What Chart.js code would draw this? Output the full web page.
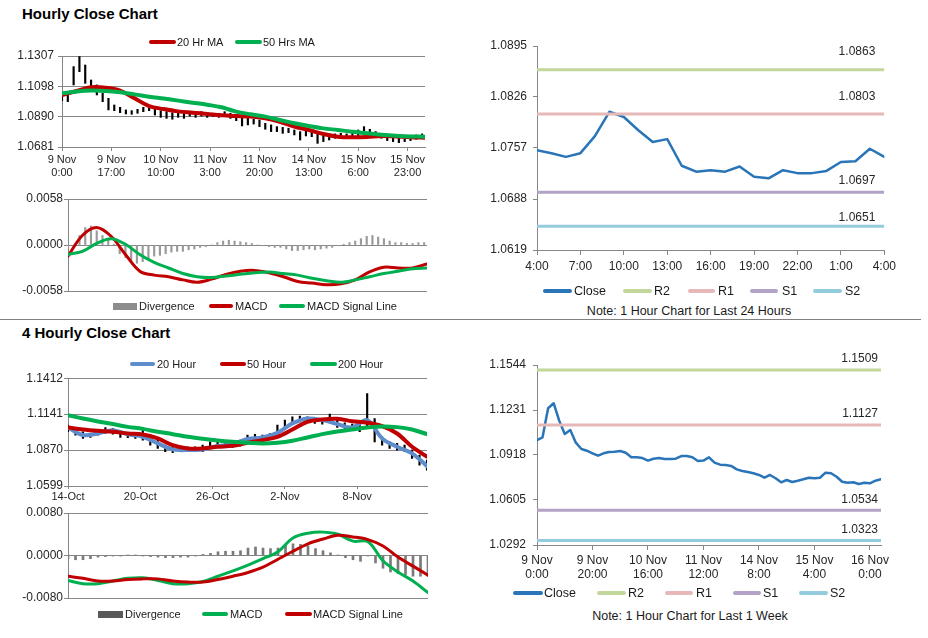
<!DOCTYPE html>
<html>
<head>
<meta charset="utf-8">
<title>Hourly Close Chart</title>
<script src="https://cdn.jsdelivr.net/npm/chart.js@4.4.1/dist/chart.umd.min.js"></script>
<style>
  body { margin: 0; background: #fff; }
  #page { position: relative; width: 928px; height: 638px; overflow: hidden; font-family: "Liberation Sans", Arial, sans-serif; color: #1a1a1a; }
  #page canvas { position: absolute; }
  .title { position: absolute; left: 22px; font-weight: bold; font-size: 15px; line-height: 18px; color: #000; }
  .lg { position: absolute; white-space: nowrap; line-height: 14px; }
  .note { position: absolute; white-space: nowrap; font-size: 12.5px; line-height: 14px; transform: translateX(-50%); }
  .rule { position: absolute; left: 0; top: 319px; width: 921px; height: 1px; background: #808080; }
</style>
</head>
<body>
<div id="page">
  <div class="title" style="top:5px">Hourly Close Chart</div>
  <div class="rule"></div>
  <div class="title" style="top:324px">4 Hourly Close Chart</div>
  <div class="note" style="left:689px;top:304px">Note: 1 Hour Chart for Last 24 Hours</div>
  <div class="note" style="left:690px;top:609px">Note: 1 Hour Chart for Last 1 Week</div>
</div>
<script>
// ---------- hourly chart, 9 Nov 0:00 onwards (x = hours)
const hourTickPos = [0, 17, 34, 51, 68, 85, 102, 119];
const hourTickLabels = [["9 Nov", "0:00"], ["9 Nov", "17:00"], ["10 Nov", "10:00"], ["11 Nov", "3:00"],
  ["11 Nov", "20:00"], ["14 Nov", "13:00"], ["15 Nov", "6:00"], ["15 Nov", "23:00"]];
const hourYTicks = [1.0681, 1.0890, 1.1098, 1.1307];
// high / low every 2 hours
const hourHigh = [1.1055, 1.1050, 1.1234, 1.1303, 1.1245, 1.1142, 1.1108, 1.1050, 1.1016, 1.0970,
  1.0954, 1.0936, 1.0931, 1.0940, 1.0954, 1.0963, 1.0945, 1.0931, 1.0924, 1.0917,
  1.0924, 1.0917, 1.0927, 1.0917, 1.0924, 1.0917, 1.0913, 1.0913, 1.0924, 1.0913,
  1.0901, 1.0885, 1.0878, 1.0872, 1.0867, 1.0844, 1.0833, 1.0821, 1.0816, 1.0810,
  1.0798, 1.0787, 1.0798, 1.0787, 1.0775, 1.0764, 1.0757, 1.0771, 1.0775, 1.0771,
  1.0780, 1.0798, 1.0821, 1.0803, 1.0787, 1.0771, 1.0757, 1.0748, 1.0748, 1.0752,
  1.0757, 1.0764, 1.0771];
const hourLow = [1.1000, 1.0993, 1.1108, 1.1199, 1.1119, 1.1078, 1.1039, 1.0993, 1.0936, 1.0931,
  1.0917, 1.0908, 1.0906, 1.0913, 1.0924, 1.0931, 1.0901, 1.0885, 1.0878, 1.0872,
  1.0885, 1.0878, 1.0894, 1.0885, 1.0894, 1.0885, 1.0890, 1.0885, 1.0894, 1.0878,
  1.0862, 1.0826, 1.0833, 1.0839, 1.0821, 1.0803, 1.0787, 1.0787, 1.0775, 1.0780,
  1.0764, 1.0729, 1.0757, 1.0752, 1.0706, 1.0718, 1.0729, 1.0741, 1.0741, 1.0748,
  1.0748, 1.0757, 1.0771, 1.0764, 1.0757, 1.0741, 1.0725, 1.0718, 1.0711, 1.0718,
  1.0725, 1.0734, 1.0741];
// moving averages every 5 hours
const hourMA20 = [1.1039, 1.1066, 1.1092, 1.1089, 1.1069, 1.1016, 1.0963, 1.0942, 1.0926, 1.0917,
  1.0908, 1.0899, 1.0894, 1.0890, 1.0878, 1.0855, 1.0821, 1.0798, 1.0770, 1.0752,
  1.0748, 1.0750, 1.0757, 1.0754, 1.0748, 1.0745];
const hourMA50 = [1.1050, 1.1062, 1.1069, 1.1066, 1.1057, 1.1043, 1.1027, 1.1014, 1.1000, 1.0986,
  1.0972, 1.0954, 1.0924, 1.0906, 1.0890, 1.0867, 1.0844, 1.0825, 1.0809, 1.0798,
  1.0786, 1.0775, 1.0766, 1.0759, 1.0754, 1.0752];
const hourMacdTicks = [-0.0058, 0, 0.0058];
const hourMacd = [-0.0014, 0.0012, 0.0022, 0.0011, -0.0012, -0.0033, -0.0038, -0.0040, -0.0044, -0.0047,
  -0.0043, -0.0037, -0.0033, -0.0032, -0.0035, -0.0040, -0.0046, -0.0048, -0.0050, -0.0049,
  -0.0044, -0.0034, -0.0028, -0.0029, -0.0029, -0.0024];
const hourSignal = [-0.0012, -0.0008, 0.0002, 0.0008, 0.0001, -0.0012, -0.0022, -0.0029, -0.0036, -0.0040,
  -0.0041, -0.0039, -0.0037, -0.0035, -0.0034, -0.0036, -0.0038, -0.0042, -0.0045, -0.0047,
  -0.0044, -0.0040, -0.0036, -0.0033, -0.0030, -0.0029];
const hourDiv = [-0.0003, -0.0002, 0.0012, 0.0022, 0.0024, 0.0018, 0.0012, 0.0008, 0.0001, -0.0011,
  -0.0016, -0.0020, -0.0023, -0.0021, -0.0017, -0.0014, -0.0013, -0.0011, -0.0009, -0.0008,
  -0.0008, -0.0006, -0.0005, -0.0003, -0.0002, 0.0000, 0.0003, 0.0005, 0.0006, 0.0005,
  0.0004, 0.0003, 0.0002, 0.0000, -0.0001, -0.0002, -0.0003, -0.0003, -0.0005, -0.0007,
  -0.0007, -0.0006, -0.0005, -0.0006, -0.0005, -0.0004, -0.0003, -0.0001, 0.0001, 0.0003,
  0.0005, 0.0008, 0.0011, 0.0012, 0.0010, 0.0008, 0.0005, 0.0003, 0.0003, 0.0002,
  0.0002, 0.0003, 0.0003];

// ---------- last 24 hours
const dayTickLabels = ["4:00", "7:00", "10:00", "13:00", "16:00", "19:00", "22:00", "1:00", "4:00"];
const dayYTicks = [1.0619, 1.0688, 1.0757, 1.0826, 1.0895];
const dayClose = [1.0754, 1.0750, 1.0745, 1.0750, 1.0773, 1.0806, 1.0799, 1.0781, 1.0765, 1.0769,
  1.0733, 1.0725, 1.0727, 1.0725, 1.0732, 1.0718, 1.0716, 1.0727, 1.0723, 1.0723,
  1.0726, 1.0738, 1.0739, 1.0756, 1.0745];
const dayLevels = [1.0863, 1.0803, 1.0697, 1.0651]; // R2, R1, S1, S2

// ---------- 4 hourly chart, 14-Oct onwards
const fourTickPos = [0, 29, 58, 87, 116];
const fourTickLabels = ["14-Oct", "20-Oct", "26-Oct", "2-Nov", "8-Nov"];
const fourYTicks = [1.0599, 1.0870, 1.1141, 1.1412];
const fourHigh = [1.1058, 1.1033, 1.1008, 1.0995, 1.1020, 1.1040, 1.1033, 1.1008, 1.1000, 1.0995,
  1.1040, 1.0970, 1.0945, 1.0907, 1.0900, 1.0890, 1.0895, 1.0895, 1.0907, 1.0932,
  1.0932, 1.0932, 1.0925, 1.0945, 1.0983, 1.0988, 1.0983, 1.0995, 1.1058, 1.1096,
  1.1121, 1.1126, 1.1121, 1.1108, 1.1108, 1.1141, 1.1096, 1.1076, 1.1066, 1.1058,
  1.1296, 1.1108, 1.0970, 1.0932, 1.0920, 1.0907, 1.0870, 1.0832, 1.0794];
const fourLow = [1.1008, 1.0983, 1.0958, 1.0965, 1.0983, 1.0995, 1.0990, 1.0965, 1.0963, 1.0958,
  1.0945, 1.0907, 1.0882, 1.0857, 1.0850, 1.0857, 1.0857, 1.0857, 1.0857, 1.0882,
  1.0890, 1.0895, 1.0890, 1.0900, 1.0945, 1.0950, 1.0945, 1.0950, 1.0995, 1.1025,
  1.1066, 1.1083, 1.1076, 1.1071, 1.1066, 1.1083, 1.1040, 1.1033, 1.1020, 1.1008,
  1.1045, 1.0932, 1.0907, 1.0882, 1.0870, 1.0857, 1.0807, 1.0757, 1.0719];
const four20 = [1.1040, 1.0983, 1.0995, 1.1020, 1.0988, 1.0970, 1.0920, 1.0875, 1.0870, 1.0875,
  1.0900, 1.0915, 1.0953, 1.0965, 1.1000, 1.1071, 1.1108, 1.1096, 1.1066, 1.1040,
  1.1096, 1.0958, 1.0895, 1.0845, 1.0749];
const four50 = [1.1040, 1.1025, 1.1015, 1.1008, 1.0995, 1.0988, 1.0958, 1.0907, 1.0882, 1.0882,
  1.0895, 1.0902, 1.0925, 1.0945, 1.0970, 1.1025, 1.1083, 1.1101, 1.1106, 1.1088,
  1.1076, 1.1050, 1.0995, 1.0895, 1.0820];
const four200 = [1.1133, 1.1108, 1.1086, 1.1066, 1.1045, 1.1030, 1.1008, 1.0990, 1.0970, 1.0955,
  1.0942, 1.0932, 1.0925, 1.0920, 1.0925, 1.0940, 1.0965, 1.0990, 1.1010, 1.1025,
  1.1040, 1.1048, 1.1043, 1.1025, 1.0990];
const fourMacdTicks = [-0.0080, 0, 0.0080];
const fourMacd = [-0.0047, -0.0053, -0.0053, -0.0048, -0.0043, -0.0042, -0.0047, -0.0053, -0.0053, -0.0049,
  -0.0039, -0.0029, -0.0018, -0.0006, 0.0007, 0.0033, 0.0042, 0.0044, 0.0040, 0.0027,
  0.0026, -0.0010, -0.0031, -0.0048, -0.0070];
const fourSignal = [-0.0039, -0.0043, -0.0048, -0.0048, -0.0045, -0.0044, -0.0044, -0.0048, -0.0050, -0.0050,
  -0.0045, -0.0039, -0.0032, -0.0022, -0.0007, 0.0008, 0.0022, 0.0031, 0.0038, 0.0035,
  0.0030, 0.0018, -0.0003, -0.0020, -0.0037];
const fourDiv = [-0.0006, -0.0008, -0.0008, -0.0006, -0.0003, -0.0002, -0.0001, -0.0001, 0.0001, 0.0001,
  -0.0001, -0.0002, -0.0003, -0.0004, -0.0004, -0.0003, -0.0003, -0.0001, 0.0002, 0.0004,
  0.0007, 0.0008, 0.0008, 0.0009, 0.0014, 0.0016, 0.0014, 0.0013, 0.0014, 0.0019,
  0.0022, 0.0021, 0.0018, 0.0013, 0.0009, 0.0005, 0.0001, -0.0004, -0.0008, -0.0011,
  -0.0001, -0.0014, -0.0024, -0.0031, -0.0034, -0.0036, -0.0039, -0.0039, -0.0039];

// ---------- last week, every 2 hours
const weekTickPos = [0, 20, 40, 60, 80, 100, 120];
const weekTickLabels = [["9 Nov", "0:00"], ["9 Nov", "20:00"], ["10 Nov", "16:00"], ["11 Nov", "12:00"],
  ["14 Nov", "8:00"], ["15 Nov", "4:00"], ["16 Nov", "0:00"]];
const weekYTicks = [1.0292, 1.0605, 1.0918, 1.1231, 1.1544];
const weekClose = [1.1022, 1.1041, 1.1243, 1.1278, 1.1157, 1.1064, 1.1092, 1.1004, 1.0960, 1.0948,
  1.0930, 1.0913, 1.0930, 1.0939, 1.0941, 1.0946, 1.0934, 1.0902, 1.0902, 1.0897,
  1.0879, 1.0892, 1.0897, 1.0890, 1.0890, 1.0892, 1.0911, 1.0911, 1.0902, 1.0876,
  1.0879, 1.0902, 1.0865, 1.0851, 1.0848, 1.0842, 1.0818, 1.0807, 1.0800, 1.0791,
  1.0779, 1.0760, 1.0779, 1.0756, 1.0728, 1.0744, 1.0730, 1.0739, 1.0749, 1.0760,
  1.0756, 1.0760, 1.0795, 1.0791, 1.0767, 1.0732, 1.0725, 1.0728, 1.0716, 1.0725,
  1.0721, 1.0739, 1.0749];
const weekLevels = [1.1509, 1.1127, 1.0534, 1.0323]; // R2, R1, S1, S2

const GRID = '#868686', TXT = '#262626';
const RED = '#c00000', GREEN = '#00b050', BLUE = '#2a74b8', BLUE2 = '#5f8dcb';
const LEVEL_COLORS = ['#c3d69b', '#e6b9b8', '#b3a2c7', '#93cddd'];
const LEVEL_NAMES = ['R2', 'R1', 'S1', 'S2'];

Chart.defaults.font.family = '"Liberation Sans", Arial, sans-serif';
Chart.defaults.color = TXT;

const page = document.getElementById('page');

function xy(values, step) {
  return values.map((v, i) => ({ x: i * step, y: v }));
}
function hilo(high, low, step) {
  return high.map((h, i) => ({ x: i * step, y: [low[i], h] }));
}

// value text above the last point of a level line
const lastValueLabel = {
  id: 'lastValueLabel',
  afterDatasetsDraw(chart) {
    const ctx = chart.ctx;
    chart.data.datasets.forEach((ds, i) => {
      if (!ds.valueLabel) return;
      const pts = chart.getDatasetMeta(i).data;
      const p = pts[pts.length - 1];
      ctx.save();
      ctx.font = '12px "Liberation Sans", Arial, sans-serif';
      ctx.fillStyle = TXT;
      ctx.textAlign = 'right';
      ctx.textBaseline = 'middle';
      ctx.fillText(ds.data[ds.data.length - 1].y.toFixed(4), p.x + ds.valueLabel.dx, p.y + ds.valueLabel.dy);
      ctx.restore();
    });
  }
};

function yScale(ticks, width, pad, grid) {
  return {
    position: 'left',
    min: ticks[0], max: ticks[ticks.length - 1],
    beginAtZero: false,
    afterBuildTicks: s => { s.ticks = ticks.map(v => ({ value: v })); },
    afterFit: s => { s.width = width; },
    ticks: { callback: v => v.toFixed(4), padding: pad, font: { size: 12 }, color: TXT },
    grid: { drawOnChartArea: grid, color: GRID, tickLength: 4 },
    border: { display: true, color: GRID }
  };
}

function xScale(max, pos, labels, height, opt) {
  // offset:false overrides the bar defaults so marks start at the axis
  if (!pos) return { type: 'linear', min: 0, max: max, offset: false, grid: { offset: false }, display: false };
  return {
    type: 'linear', min: 0, max: max, offset: false,
    afterBuildTicks: s => { s.ticks = pos.map(v => ({ value: v })); },
    afterFit: s => { s.height = height; },
    ticks: { callback: (v, i) => labels[i], autoSkip: false, maxRotation: 0, minRotation: 0,
      padding: opt.pad, font: { size: opt.size }, color: TXT },
    grid: { drawOnChartArea: false, offset: false, color: GRID, tickLength: opt.tl },
    border: { display: true, color: GRID }
  };
}

function makeChart(box, datasets, scales, pad) {
  const cv = document.createElement('canvas');
  cv.width = box[2]; cv.height = box[3];
  cv.style.cssText = 'left:' + box[0] + 'px;top:' + box[1] + 'px;width:' + box[2] + 'px;height:' + box[3] + 'px';
  page.appendChild(cv);
  return new Chart(cv, {
    type: 'line',
    data: { datasets: datasets },
    options: {
      responsive: false, animation: false, devicePixelRatio: 1,
      layout: { padding: pad },
      plugins: { legend: { display: false }, tooltip: { enabled: false } },
      elements: { point: { radius: 0 }, line: { borderJoinStyle: 'round', borderCapStyle: 'round' } },
      scales: scales
    },
    plugins: [lastValueLabel]
  });
}

function lineSet(label, data, color, width, tension, order) {
  return { type: 'line', label: label, data: data, borderColor: color, borderWidth: width,
    tension: tension, fill: false, order: order };
}

function levelSets(levels, maxX, dx, dys) {
  return levels.map((v, i) => ({
    type: 'line', label: LEVEL_NAMES[i], data: [{ x: 0, y: v }, { x: maxX, y: v }],
    borderColor: LEVEL_COLORS[i], borderWidth: 3, borderCapStyle: 'butt', order: 3 - i,
    valueLabel: { dx: dx, dy: dys[i] }
  }));
}

// hourly close with moving averages
makeChart([0, 40, 440, 150], [
  lineSet('50 Hrs MA', xy(hourMA50, 5), GREEN, 4, 0.35, 0),
  lineSet('20 Hr MA', xy(hourMA20, 5), RED, 4, 0.35, 1),
  { type: 'bar', label: 'Price', data: hilo(hourHigh, hourLow, 2), backgroundColor: '#000', barThickness: 1.5, order: 2 }
], {
  x: xScale(125, hourTickPos, hourTickLabels, 43, { pad: 2, size: 11, tl: 4 }),
  y: yScale(hourYTicks, 62, 4, true)
}, { top: 16, right: 15, bottom: 0, left: 0 });

// hourly MACD
makeChart([0, 190, 440, 110], [
  lineSet('MACD Signal Line', xy(hourSignal, 5), GREEN, 3, 0.35, 0),
  lineSet('MACD', xy(hourMacd, 5), RED, 3, 0.35, 1),
  { type: 'bar', label: 'Divergence', data: xy(hourDiv, 2), backgroundColor: '#9a9a9a', barThickness: 1.5, order: 2 }
], {
  x: xScale(125),
  y: yScale(hourMacdTicks, 68, 1, true)
}, { top: 9, right: 13, bottom: 9, left: 0 });

// last 24 hours
makeChart([460, 30, 440, 255], [
  lineSet('Close', xy(dayClose, 1), BLUE, 2.5, 0, 4)
].concat(levelSets(dayLevels, 24, -9, [-18, -17, -12, -9])), {
  x: xScale(24, [0, 3, 6, 9, 12, 15, 18, 21, 24], dayTickLabels, 35, { pad: 4, size: 12, tl: 5 }),
  y: yScale(dayYTicks, 77, 6, false)
}, { top: 16, right: 14, bottom: 0, left: 0 });

// 4 hourly close with moving averages
makeChart([0, 370, 440, 140], [
  lineSet('200 Hour', xy(four200, 6), GREEN, 4, 0.35, 0),
  lineSet('50 Hour', xy(four50, 6), RED, 4, 0.35, 1),
  lineSet('20 Hour', xy(four20, 6), BLUE2, 4, 0.35, 2),
  { type: 'bar', label: 'Price', data: hilo(fourHigh, fourLow, 3), backgroundColor: '#000', barThickness: 1.5, order: 3 }
], {
  x: xScale(144, fourTickPos, fourTickLabels, 24, { pad: 1, size: 11, tl: 3 }),
  y: yScale(fourYTicks, 68, 1, true)
}, { top: 8, right: 13, bottom: 0, left: 0 });

// 4 hourly MACD
makeChart([0, 503, 440, 104], [
  lineSet('MACD Signal Line', xy(fourSignal, 6), RED, 3, 0.35, 0),
  lineSet('MACD', xy(fourMacd, 6), GREEN, 3, 0.35, 1),
  { type: 'bar', label: 'Divergence', data: xy(fourDiv, 3), backgroundColor: '#7a7a7a', barThickness: 2, order: 2 }
], {
  x: xScale(144),
  y: yScale(fourMacdTicks, 68, 1, true)
}, { top: 10, right: 12, bottom: 9, left: 0 });

// last week
makeChart([460, 350, 440, 235], [
  lineSet('Close', xy(weekClose, 2), BLUE, 2.5, 0, 4)
].concat(levelSets(weekLevels, 124, -3, [-11, -11, -11, -11])), {
  x: xScale(124, weekTickPos, weekTickLabels, 40, { pad: 3, size: 12, tl: 5 }),
  y: yScale(weekYTicks, 77, 7, false)
}, { top: 15, right: 19, bottom: 0, left: 0 });

// legends
function legendRow(y, size, items) {
  items.forEach(it => {
    const h = it.box ? 7 : 4;
    const mark = document.createElement('div');
    mark.style.cssText = 'position:absolute;left:' + it.x + 'px;top:' + (y - h / 2) + 'px;width:' + it.w +
      'px;height:' + h + 'px;background:' + it.color + ';border-radius:' + (it.box ? 0 : 2) + 'px';
    page.appendChild(mark);
    const t = document.createElement('div');
    t.className = 'lg';
    t.style.cssText = 'left:' + it.tx + 'px;top:' + (y - 7) + 'px;font-size:' + size + 'px';
    t.textContent = it.text;
    page.appendChild(t);
  });
}

legendRow(42, 11, [
  { x: 149, w: 27, color: RED, text: '20 Hr MA', tx: 177 },
  { x: 235, w: 27, color: GREEN, text: '50 Hrs MA', tx: 263 }
]);
legendRow(306, 11, [
  { box: true, x: 113, w: 24, color: '#8c8c8c', text: 'Divergence', tx: 139 },
  { x: 209, w: 24, color: RED, text: 'MACD', tx: 235 },
  { x: 279, w: 26, color: GREEN, text: 'MACD Signal Line', tx: 307 }
]);
legendRow(291, 12.5, [
  { x: 543, w: 29, color: BLUE, text: 'Close', tx: 574 },
  { x: 623, w: 29, color: LEVEL_COLORS[0], text: 'R2', tx: 654 },
  { x: 688, w: 27, color: LEVEL_COLORS[1], text: 'R1', tx: 718 },
  { x: 750, w: 28, color: LEVEL_COLORS[2], text: 'S1', tx: 782 },
  { x: 813, w: 29, color: LEVEL_COLORS[3], text: 'S2', tx: 845 }
]);
legendRow(364, 11, [
  { x: 130, w: 25, color: BLUE2, text: '20 Hour', tx: 157 },
  { x: 220, w: 26, color: RED, text: '50 Hour', tx: 247 },
  { x: 310, w: 27, color: GREEN, text: '200 Hour', tx: 338 }
]);
legendRow(614, 11, [
  { box: true, x: 98, w: 25, color: '#595959', text: 'Divergence', tx: 125 },
  { x: 202, w: 26, color: GREEN, text: 'MACD', tx: 230 },
  { x: 285, w: 27, color: RED, text: 'MACD Signal Line', tx: 313 }
]);
legendRow(593, 12.5, [
  { x: 513, w: 30, color: BLUE, text: 'Close', tx: 544 },
  { x: 597, w: 29, color: LEVEL_COLORS[0], text: 'R2', tx: 628 },
  { x: 665, w: 28, color: LEVEL_COLORS[1], text: 'R1', tx: 696 },
  { x: 733, w: 28, color: LEVEL_COLORS[2], text: 'S1', tx: 763 },
  { x: 799, w: 29, color: LEVEL_COLORS[3], text: 'S2', tx: 830 }
]);
</script>
</body>
</html>
